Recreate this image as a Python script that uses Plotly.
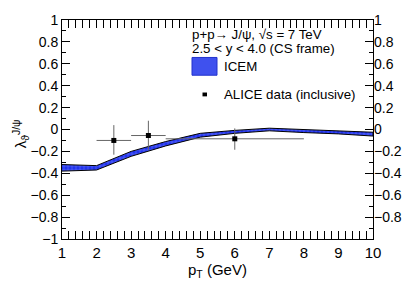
import plotly.graph_objects as go

# ICEM band
pt_band = [1, 2, 3, 4, 5, 6, 7, 8, 9, 10]
band_hi = [-0.32, -0.33, -0.20, -0.11, -0.035, -0.008, 0.012, 0.0, -0.012, -0.025]
band_lo = [-0.38, -0.37, -0.245, -0.15, -0.07, -0.035, -0.012, -0.028, -0.04, -0.06]

# ALICE data
pt_data = [2.5, 3.5, 6.0]
pt_err = [0.5, 0.5, 2.0]
lam_data = [-0.10, -0.055, -0.085]
lam_err_up = [0.14, 0.135, 0.095]
lam_err_dn = [0.13, 0.13, 0.10]

# tick labels
y_ticks = [-1, -0.8, -0.6, -0.4, -0.2, 0, 0.2, 0.4, 0.6, 0.8, 1]
y_ticktext = ["−1", "−0.8", "−0.6", "−0.4", "−0.2", "0", "0.2", "0.4", "0.6", "0.8", "1"]

header1 = "p+p→ J/ψ, √s = 7 TeV"
header2 = "2.5 < y < 4.0 (CS frame)"
name_band = "ICEM"
name_data = "ALICE data (inclusive)"

font = "Liberation Sans, Arial, sans-serif"
BLUE = "#2233ee"
LEG = 13.3

# pixel -> paper helpers for the plot area (l=62, r=373, t=14, b=242)
def px(x):
    return (x - 62) / 311.0

def py(y):
    return (242 - y) / 228.0

fig = go.Figure()
fig.add_trace(go.Scatter(
    x=pt_band + pt_band[::-1], y=band_hi + band_lo[::-1],
    fill="toself", mode="lines", name=name_band, showlegend=False,
    line=dict(color="black", width=1),
    fillcolor=BLUE,
    fillpattern=dict(shape="+", fgcolor="#aabbff", bgcolor=BLUE, size=4, solidity=0.25),
    hoverinfo="skip"))
fig.add_trace(go.Scatter(
    x=pt_data, y=lam_data, mode="markers", name=name_data, showlegend=False,
    marker=dict(symbol="square", color="black", size=5),
    error_x=dict(type="data", array=pt_err, color="#666", thickness=1, width=0),
    error_y=dict(type="data", symmetric=False, array=lam_err_up, arrayminus=lam_err_dn,
                 color="#666", thickness=1, width=0)))
fig.add_trace(go.Scatter(x=pt_data, y=lam_data, yaxis="y2", mode="markers",
                         opacity=0, showlegend=False, hoverinfo="skip"))

annotations = [
    dict(text=header1, x=px(190), y=py(29), xref="paper", yref="paper",
         xanchor="left", yanchor="middle", showarrow=False, font=dict(size=LEG)),
    dict(text=header2, x=px(190), y=py(43.5), xref="paper", yref="paper",
         xanchor="left", yanchor="middle", showarrow=False, font=dict(size=LEG)),
    dict(text=name_band, x=px(222), y=py(62), xref="paper", yref="paper",
         xanchor="left", yanchor="middle", showarrow=False, font=dict(size=LEG)),
    dict(text=name_data, x=px(222), y=py(91.5), xref="paper", yref="paper",
         xanchor="left", yanchor="middle", showarrow=False, font=dict(size=LEG)),
    dict(text="λ<sub>ϑ</sub><sup>J/ψ</sup>", x=px(20), y=py(133), xref="paper", yref="paper",
         xanchor="center", yanchor="middle", showarrow=False, textangle=-90,
         font=dict(size=15)),
]
shapes = [
    dict(type="rect", xref="paper", yref="paper", x0=px(192), x1=px(217), y0=py(71.5), y1=py(53),
         fillcolor="#3f51ee", line=dict(color="#2233cc", width=1)),
    dict(type="rect", xref="paper", yref="paper", x0=px(202.5), x1=px(207), y0=py(93.5), y1=py(89.5),
         fillcolor="black", line=dict(width=0)),
]

fig.update_layout(
    width=415, height=284, margin=dict(l=62, r=42, t=14, b=42),
    paper_bgcolor="white", plot_bgcolor="white",
    font=dict(family=font, size=14, color="black"),
    annotations=annotations, shapes=shapes,
    xaxis=dict(range=[1, 10], dtick=1, ticks="inside", ticklen=8, tickcolor="black",
               showline=True, linecolor="black", linewidth=1, mirror="allticks",
               showgrid=False, zeroline=False, tickfont=dict(size=15),
               minor=dict(ticks="inside", dtick=0.2, ticklen=4, tickcolor="black"),
               title=dict(text="p<sub>T</sub> (GeV)", standoff=0, font=dict(size=15))),
    yaxis=dict(range=[-1, 1], tickvals=y_ticks, ticktext=y_ticktext,
               ticks="inside", ticklen=8, tickcolor="black",
               showline=True, linecolor="black", linewidth=1, mirror="allticks",
               showgrid=False, zeroline=False, tickfont=dict(size=14),
               minor=dict(ticks="inside", dtick=0.1, ticklen=4, tickcolor="black")),
    yaxis2=dict(range=[-1, 1], overlaying="y", side="right", tickvals=y_ticks[1:],
                ticktext=y_ticktext[1:], ticks="", showgrid=False, zeroline=False,
                showline=False, tickfont=dict(size=14)),
    showlegend=False,
)
fig.write_html("out.html", config={"displayModeBar": False},
               post_script="document.body.style.margin='0';")
